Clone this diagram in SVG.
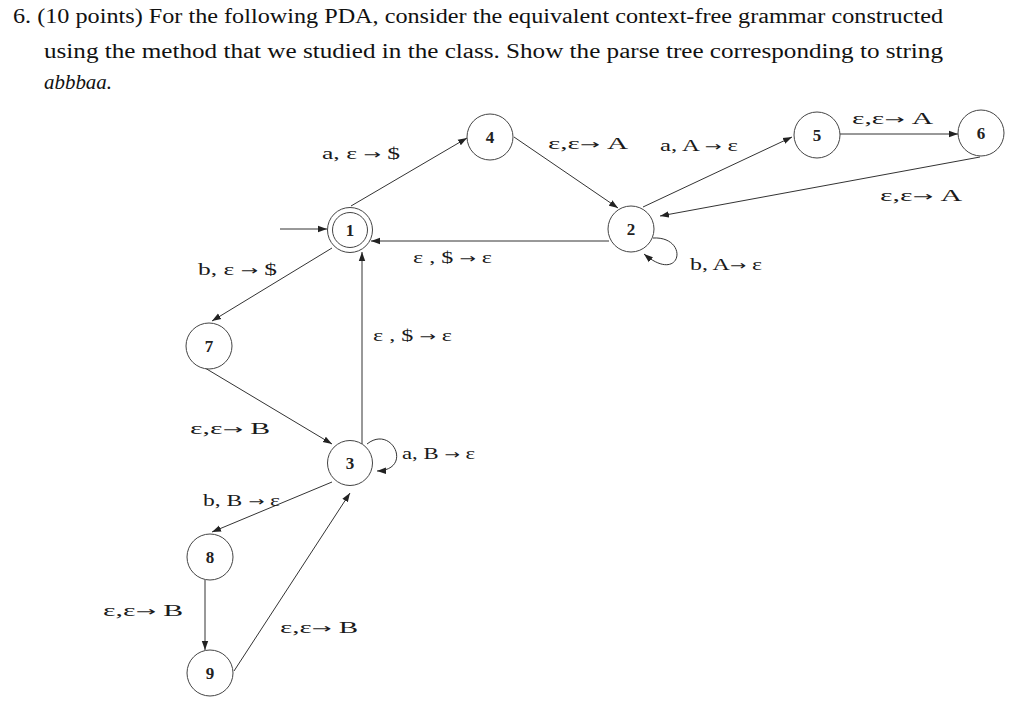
<svg xmlns="http://www.w3.org/2000/svg" width="1024" height="710" viewBox="0 0 1024 710">
<style>
.hd{font-family:"Liberation Serif",serif;font-size:20px;fill:#111}
.st{fill:#fff;stroke:#444;stroke-width:1}
.nm{font-family:"Liberation Serif",serif;font-size:17px;font-weight:bold;fill:#222;text-anchor:middle}
.lb{font-family:"Liberation Serif",serif;font-size:16px;fill:#1a1a1a}
.ar{font-family:"DejaVu Sans",sans-serif;font-size:13px}
.ed{fill:none;stroke:#333;stroke-width:1;marker-end:url(#ah)}
</style>
<defs>
<marker id="ah" markerUnits="userSpaceOnUse" markerWidth="10" markerHeight="8" refX="9" refY="4" orient="auto">
<path d="M0,0.8 L9,4 L0,7.2 Z" fill="#222"/>
</marker>
</defs>
<rect width="1024" height="710" fill="#fff"/>
<g id="heading">
<text class="hd" x="13" y="23" textLength="930" lengthAdjust="spacingAndGlyphs">6. (10 points) For the following PDA, consider the equivalent context-free grammar constructed</text>
<text class="hd" x="44" y="58" textLength="899" lengthAdjust="spacingAndGlyphs">using the method that we studied in the class. Show the parse tree corresponding to string</text>
<text class="hd" x="44" y="89" font-style="italic" textLength="68" lengthAdjust="spacingAndGlyphs">abbbaa.</text>
</g>
<g id="connectors">
<line class="ed" x1="280" y1="229" x2="327" y2="229"/>
<line class="ed" x1="351" y1="206" x2="467" y2="138"/>
<line class="ed" x1="514" y1="137" x2="618" y2="208"/>
<line class="ed" x1="609" y1="241" x2="371" y2="241"/>
<line class="ed" x1="643" y1="207" x2="792" y2="137"/>
<line class="ed" x1="840" y1="134" x2="958" y2="134"/>
<line class="ed" x1="980" y1="157" x2="660" y2="216"/>
<path class="ed" d="M653,238 C690,236 682,286 644,254"/>
<line class="ed" x1="332" y1="248" x2="212" y2="321"/>
<line class="ed" x1="205" y1="368" x2="332" y2="444"/>
<line class="ed" x1="362" y1="444" x2="362" y2="252"/>
<path class="ed" d="M367,444 C392,424 414,470 377,471"/>
<line class="ed" x1="332" y1="482" x2="212" y2="532"/>
<line class="ed" x1="205" y1="580" x2="205" y2="650"/>
<line class="ed" x1="234" y1="671" x2="350" y2="493"/>
</g>
<g id="labels">
<text class="lb" x="322" y="159" textLength="78" lengthAdjust="spacingAndGlyphs">a,  ε <tspan class="ar">→</tspan> $</text>
<text class="lb" x="198" y="275" textLength="79" lengthAdjust="spacingAndGlyphs">b,  ε <tspan class="ar">→</tspan> $</text>
<text class="lb" x="413" y="263" textLength="79" lengthAdjust="spacingAndGlyphs">ε , $  <tspan class="ar">→</tspan> ε</text>
<text class="lb" x="548" y="149" textLength="80" lengthAdjust="spacingAndGlyphs">ε,ε<tspan class="ar">→</tspan>  A</text>
<text class="lb" x="660" y="151" textLength="78" lengthAdjust="spacingAndGlyphs">a, A <tspan class="ar">→</tspan> ε</text>
<text class="lb" x="852" y="124" textLength="81" lengthAdjust="spacingAndGlyphs">ε,ε<tspan class="ar">→</tspan>  A</text>
<text class="lb" x="880" y="201" textLength="82" lengthAdjust="spacingAndGlyphs">ε,ε<tspan class="ar">→</tspan>  A</text>
<text class="lb" x="690" y="270" textLength="72" lengthAdjust="spacingAndGlyphs">b, A<tspan class="ar">→</tspan> ε</text>
<text class="lb" x="373" y="341" textLength="79" lengthAdjust="spacingAndGlyphs">ε , $  <tspan class="ar">→</tspan> ε</text>
<text class="lb" x="190" y="434" textLength="80" lengthAdjust="spacingAndGlyphs">ε,ε<tspan class="ar">→</tspan>  B</text>
<text class="lb" x="402" y="459" textLength="73" lengthAdjust="spacingAndGlyphs">a, B <tspan class="ar">→</tspan> ε</text>
<text class="lb" x="203" y="506" textLength="77" lengthAdjust="spacingAndGlyphs">b, B <tspan class="ar">→</tspan> ε</text>
<text class="lb" x="103" y="616" textLength="80" lengthAdjust="spacingAndGlyphs">ε,ε<tspan class="ar">→</tspan>  B</text>
<text class="lb" x="280" y="633" textLength="78" lengthAdjust="spacingAndGlyphs">ε,ε<tspan class="ar">→</tspan>  B</text>
</g>
<g id="node1"><circle class="st" cx="350" cy="230" r="22.5"/><circle class="st" cx="350" cy="230" r="17.5"/><text class="nm" x="350" y="236">1</text></g>
<g id="node4"><circle class="st" cx="490" cy="137" r="23"/><text class="nm" x="490" y="143">4</text></g>
<g id="node2"><circle class="st" cx="631" cy="229" r="23"/><text class="nm" x="631" y="235">2</text></g>
<g id="node5"><circle class="st" cx="817" cy="135" r="23"/><text class="nm" x="817" y="141">5</text></g>
<g id="node6"><circle class="st" cx="981" cy="133" r="23"/><text class="nm" x="981" y="139">6</text></g>
<g id="node7"><circle class="st" cx="209" cy="346" r="23"/><text class="nm" x="209" y="352">7</text></g>
<g id="node3"><circle class="st" cx="350" cy="463" r="22.5"/><text class="nm" x="350" y="469">3</text></g>
<g id="node8"><circle class="st" cx="210" cy="557" r="23"/><text class="nm" x="210" y="563">8</text></g>
<g id="node9"><circle class="st" cx="210" cy="673" r="23"/><text class="nm" x="210" y="679">9</text></g>
</svg>
